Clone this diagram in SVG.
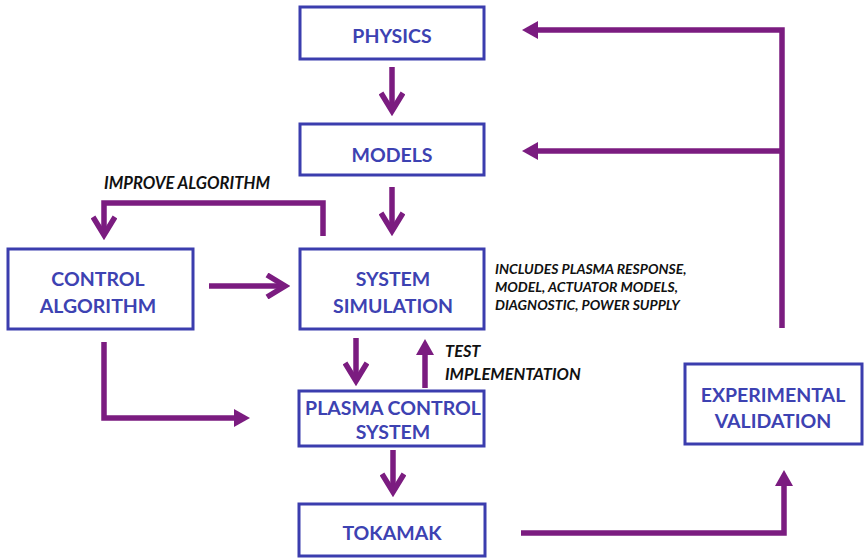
<svg xmlns="http://www.w3.org/2000/svg" width="866" height="559" viewBox="0 0 866 559">
<style>
.box{fill:#ffffff;stroke:#3b3dae;stroke-width:3}
.lbl{font-family:Lato,"Open Sans","DejaVu Sans",sans-serif;font-weight:bold;font-size:19.5px;fill:#3d42b2;text-anchor:middle}
.note{font-family:Lato,"Open Sans","DejaVu Sans",sans-serif;font-weight:bold;font-style:italic;fill:#111111}
.c{fill:none;stroke:#7b1c80;stroke-width:5.5;stroke-linejoin:miter}
.cv{marker-end:url(#chev)}
.ct{marker-end:url(#tri)}
</style>
<defs>
<marker id="chev" viewBox="0 0 26 26" refX="21" refY="13" markerWidth="26" markerHeight="26" markerUnits="userSpaceOnUse" orient="auto">
<path d="M3,2 L21,13 L3,24" fill="none" stroke="#7b1c80" stroke-width="5.5" stroke-linejoin="miter"/>
</marker>
<marker id="tri" viewBox="0 0 16 18" refX="3" refY="9" markerWidth="16" markerHeight="18" markerUnits="userSpaceOnUse" orient="auto">
<path d="M0,0 L16,9 L0,18 Z" fill="#7b1c80"/>
</marker>
</defs>
<rect width="866" height="559" fill="#ffffff"/>

<g id="connectors">
<path class="c cv" d="M392,67 L392,111"/>
<path class="c cv" d="M392,187 L392,231"/>
<path class="c cv" d="M323,236 L323,203 L104,203 L104,235"/>
<path class="c cv" d="M209,286 L285,286"/>
<path class="c cv" d="M356,338 L356,381"/>
<path class="c ct" d="M425,388 L425,352"/>
<path class="c ct" d="M104,342 L104,418 L237,418"/>
<path class="c cv" d="M393,450 L393,492"/>
<path class="c ct" d="M521,533 L784,533 L784,483"/>
<path class="c ct" d="M782,328 L782,30 L535,30"/>
<path class="c ct" d="M782,151 L535,151"/>
</g>

<g id="physics">
<rect class="box" x="300" y="7" width="184" height="52"/>
<text class="lbl" x="392" y="43">PHYSICS</text>
</g>
<g id="models">
<rect class="box" x="300" y="124" width="184" height="51"/>
<text class="lbl" x="392" y="162">MODELS</text>
</g>
<g id="control-algorithm">
<rect class="box" x="8" y="249" width="185" height="80"/>
<text class="lbl" x="98" y="286">CONTROL</text>
<text class="lbl" x="98" y="313">ALGORITHM</text>
</g>
<g id="system-simulation">
<rect class="box" x="300" y="249" width="184" height="80"/>
<text class="lbl" x="393" y="286">SYSTEM</text>
<text class="lbl" x="393" y="313">SIMULATION</text>
</g>
<g id="plasma-control-system">
<rect class="box" x="299" y="391" width="185" height="55"/>
<text class="lbl" x="393" y="415">PLASMA CONTROL</text>
<text class="lbl" x="393" y="439">SYSTEM</text>
</g>
<g id="tokamak">
<rect class="box" x="299" y="504" width="186" height="52"/>
<text class="lbl" x="392" y="540">TOKAMAK</text>
</g>
<g id="experimental-validation">
<rect class="box" x="685" y="364" width="177" height="80"/>
<text class="lbl" x="773" y="402">EXPERIMENTAL</text>
<text class="lbl" x="773" y="428">VALIDATION</text>
</g>

<g id="labels">
<text class="note" x="104" y="189" font-size="16.6">IMPROVE ALGORITHM</text>
<text class="note" x="445" y="357" font-size="16.4">TEST</text>
<text class="note" x="445" y="380" font-size="16.4">IMPLEMENTATION</text>
<text class="note" x="495" y="274" font-size="14">INCLUDES PLASMA RESPONSE,</text>
<text class="note" x="495" y="292" font-size="14">MODEL, ACTUATOR MODELS,</text>
<text class="note" x="495" y="310" font-size="14">DIAGNOSTIC, POWER SUPPLY</text>
</g>
</svg>
